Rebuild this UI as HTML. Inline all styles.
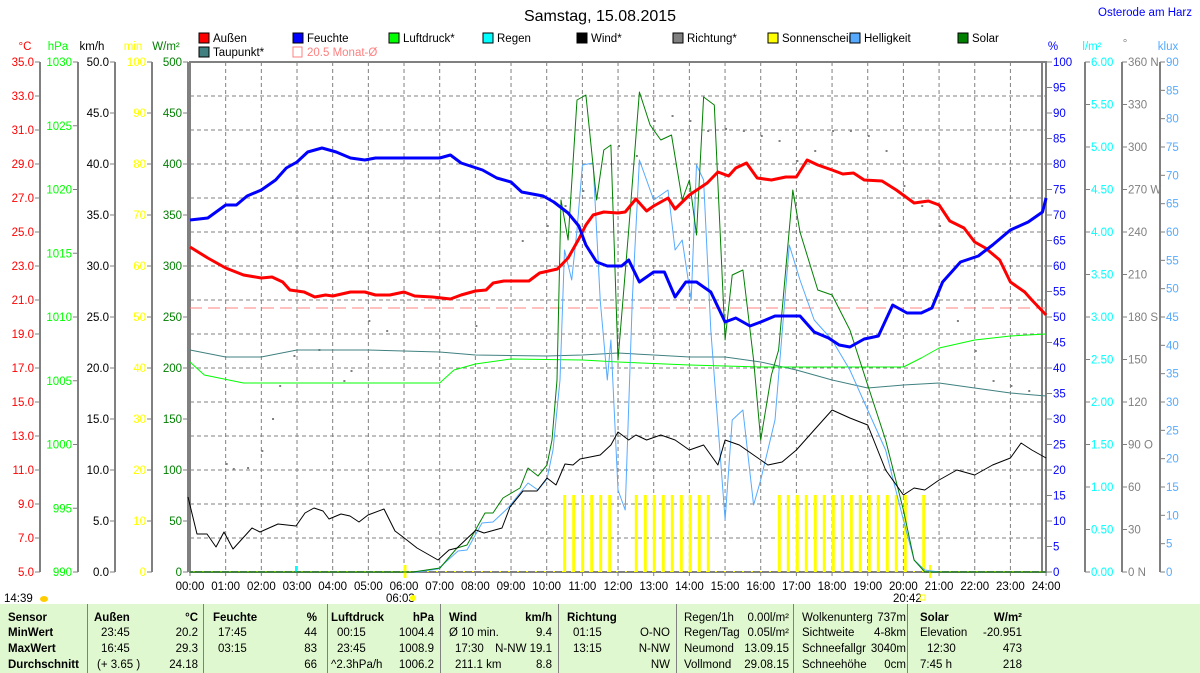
<!DOCTYPE html>
<html><head><meta charset="utf-8"><style>
body{margin:0;background:#fff;width:1200px;height:673px;overflow:hidden;font-family:"Liberation Sans",sans-serif}
svg{position:absolute;left:0;top:0}
.tb{position:absolute;left:0;top:604px;width:1200px;height:69px;background:#e0f8d0;font-size:11.5px}
.tb div{position:absolute;white-space:nowrap}
.tb .vl{width:1px;height:69px;top:0;background:#808080}
</style></head><body>
<svg id="s" width="1200" height="604" font-family="Liberation Sans, sans-serif" font-size="11.5"></svg>
<div class="tb" id="tb"></div>
<script>
const S=document.getElementById('s');let h='';
const X=t=>190+35.67*t, Q=x=>(x-190)/35.67, x0=190,x1=1046,y0=62,y1=572;
function T(x,y,s,c,a,extra){h+=`<text x="${x}" y="${y}" fill="${c||'#000'}" text-anchor="${a||'start'}" ${extra||''}>${s}</text>`;}
function L(a,b,c2,d,c,w,da){h+=`<line x1="${a}" y1="${b}" x2="${c2}" y2="${d}" stroke="${c}" stroke-width="${w||1}" ${da?`stroke-dasharray="${da}"`:''}/>`;}
function P(pts,c,w){h+=`<polyline fill="none" stroke="${c}" stroke-width="${w}" stroke-linejoin="round" points="${pts.map(p=>X(p[0]).toFixed(1)+','+p[1]).join(' ')}"/>`;}
const px=a=>a.map(p=>[Q(p[0]),p[1]]);
T(600,21,'Samstag, 15.08.2015','#000','middle','font-size="16"');
T(1192,16,'Osterode am Harz','#0000ff','end');
const lg=[[199,'Außen','#ff0000'],[293,'Feuchte','#0000ff'],[389,'Luftdruck*','#00ff00'],[483,'Regen','#00ffff'],[577,'Wind*','#000'],[673,'Richtung*','#808080'],[768,'Sonnenschein','#ffff00'],[850,'Helligkeit','#55aaff'],[958,'Solar','#008000']];
lg.forEach(l=>{h+=`<rect x="${l[0]}" y="33" width="10" height="10" fill="${l[2]}" stroke="#000"/>`;T(l[0]+14,42,l[1]);});
h+=`<rect x="199" y="47" width="10" height="10" fill="#408080" stroke="#000"/>`;T(213,56,'Taupunkt*');
h+=`<rect x="293" y="47" width="9" height="10" fill="none" stroke="#ff8080"/>`;T(307,56,'20.5 Monat-Ø','#ff8080');
for(let i=1;i<24;i++)L(X(i),y0,X(i),y1,'#808080',1,'4,3');
for(let i=1;i<15;i++)L(x0,y0+34*i,x1,y0+34*i,'#808080',1,'4,3');
h+=`<rect x="${x0}" y="${y0}" width="${x1-x0}" height="${y1-y0}" fill="none" stroke="#808080" stroke-width="2"/>`;
L(1042,y0,1042,y1,'#808080',2);
T(25,50,'°C','#ff0000','middle');T(58,50,'hPa','#00ff00','middle');T(92,50,'km/h','#000','middle');T(133,50,'min','#ffff00','middle');T(166,50,'W/m²','#008000','middle');
[[40,'#ff0000',15,i=>(35-2*i).toFixed(1)],[78,'#00ff00',8,i=>1030-5*i],[115,'#000',10,i=>(50-5*i).toFixed(1)],[152,'#ffff00',10,i=>100-10*i],[188,'#008000',10,i=>500-50*i]].forEach(a=>{
 L(a[0],y0,a[0],y1,'#808080',2);
 for(let i=0;i<=a[2];i++){const y=y0+510*i/a[2];L(a[0]-5,y,a[0],y,'#808080');T(a[0]-6,y+4,a[3](i),a[1],'end');}
});
T(1053,50,'%','#0000ff','middle');T(1092,50,'l/m²','#00ffff','middle');T(1125,47,'°','#808080','middle');T(1168,50,'klux','#55aaff','middle');
const dirs={0:'360 N',3:'270 W',6:'180 S',9:'90 O',12:'0 N'};
[[1047,'#0000ff',20,i=>100-5*i],[1085,'#00ffff',12,i=>(6-0.5*i).toFixed(2)],[1122,'#808080',12,i=>dirs[i]||(360-30*i)],[1160,'#55aaff',18,i=>90-5*i]].forEach(a=>{
 if(a[0]!=1047)L(a[0],y0,a[0],y1,'#808080',2);
 for(let i=0;i<=a[2];i++){const y=y0+510*i/a[2];L(a[0],y,a[0]+5,y,'#808080');T(a[0]+6,y+4,a[3](i),a[1]);}
});
for(let i=0;i<=24;i++){L(X(i),y1,X(i),y1+4,'#808080');T(X(i),590,(i<10?'0':'')+i+':00','#000','middle');}
T(4,602,'14:39');h+=`<ellipse cx="44" cy="599" rx="4" ry="3" fill="#ffcc00"/>`;
T(386,602,'06:03');h+=`<circle cx="413" cy="598" r="3" fill="#ffff00"/>`;L(405,565,405,578,'#ffff00',3);
T(893,602,'20:42');h+=`<rect x="920" y="595" width="5" height="5" fill="none" stroke="#ffff00"/>`;L(930,565,930,578,'#ffff00',2);
L(296,566,296,572,'#00ffff',2);
const sb=[];for(let i=0;i<6;i++)sb.push(564.7+9*i);for(let i=0;i<9;i++)sb.push(636.3+9*i);for(let i=0;i<15;i++)sb.push(779.3+9*i);sb.push(923.7);
sb.forEach(x=>L(x,495,x,572,'#ffff00',3));
for(let x=193;x<1040;x+=9){h+=`<rect x="${x}" y="571" width="2" height="1" fill="#ffff00"/>`;}
const dots=[[1,463],[1.2,468],[1.6,467],[2,450],[2.3,418],[2.5,385],[2.9,355],[3.6,349],[4.3,380],[4.5,370],[5,320],[5.5,330],[8,325],[9.3,240],[10,225],[10.5,205],[11,190],[12,145],[12.5,155],[13,120],[13.5,115],[14,120],[14.5,130],[15,128],[15.5,130],[16,135],[16.5,140],[17,160],[17.5,150],[18,130],[18.5,130],[19,135],[19.5,150],[20,185],[20.5,205],[21,225],[21.5,320],[22,350],[22.5,380],[23,385],[23.5,390]];
dots.forEach(p=>{h+=`<rect x="${X(p[0])}" y="${p[1]}" width="2" height="2" fill="#808080"/>`;});
P([[0,350],[1,357],[2,357],[3,350],[5,350],[7,352],[8,355],[10,356],[11,355],[12,353],[13,355],[14,357],[15,357],[16,362],[17,370],[18,380],[19,388],[20,385],[21,383],[22,388],[23,393],[24,396]],'#408080',1);
P([[0,362],[0.4,375],[1.5,383],[7,383],[7.4,370],[8,364],[9,359],[11,360],[12,362],[14,365],[16,367],[20,367],[20.5,358],[21,348],[22,340],[23,336],[24,334]],'#00ff00',1);
L(x0,308,x1,308,'#ff8080',1,'12,6');
const hb=[[0,572]].concat(px([[417,572],[438,569],[458,551],[467,550],[482,523],[493,522],[508,508],[528,483],[538,490],[547,479],[553,450],[560,380]]),[[10.5,250],[10.7,280],[10.85,230],[11,165],[11.3,163],[11.5,300],[11.7,380],[11.8,340],[12,490],[12.2,510],[12.4,300],[12.6,160],[13,200],[13.4,190],[13.6,250],[13.8,240],[14.05,300],[14.2,165],[14.4,180],[14.6,330],[15,520],[15.2,420],[15.5,410],[15.8,505],[16,480],[16.4,420],[16.8,245],[17.1,280],[17.5,320],[18,340],[18.5,370],[19,410],[19.5,450],[20,520],[20.3,560],[20.6,570],[21,572],[24,572]]);
P(hb,'#55aaff',1);
const so=[[0,572]].concat(px([[413,572],[440,568],[457,548],[467,545],[485,513],[493,513],[503,498],[520,488],[528,468],[538,476],[547,465],[552,440],[557,380]]),[[10.4,200],[10.6,240],[10.85,100],[11.1,95],[11.4,200],[11.6,150],[11.8,145],[12,360],[12.3,230],[12.6,92],[12.9,125],[13.2,140],[13.5,135],[13.8,200],[14,180],[14.2,235],[14.4,97],[14.7,105],[15,340],[15.2,275],[15.5,270],[15.8,360],[16,440],[16.3,375],[16.5,350],[16.9,190],[17.1,232],[17.6,290],[18,295],[18.5,330],[19,385],[19.5,440],[20,510],[20.3,560],[20.6,572],[24,572]]);
P(so,'#008000',1);
const wi=px([[188,497],[197,534],[207,534],[216,547],[224,532],[233,549],[252,528],[260,532],[278,524],[296,526],[305,513],[314,508],[323,511],[329,519],[341,514],[350,516],[359,522],[368,515],[384,509],[395,531],[403,537],[417,548],[438,560],[449,550],[457,548],[476,530],[484,533],[502,528],[510,507],[523,491],[537,491],[547,478],[556,485],[565,464],[573,465],[580,459]]).concat([[11.5,455],[11.8,445],[12,432],[12.3,440],[12.5,435],[12.8,440],[13.2,435],[13.6,440],[14,450],[14.4,445],[14.8,465],[15,440],[15.4,445],[15.8,455],[16.2,465],[16.6,462],[17,450],[17.5,430],[18,410],[18.5,418],[19,425],[19.5,470],[20,495],[20.3,488],[20.6,490],[21,480],[21.5,470],[22,475],[22.5,465],[23,458],[23.3,443],[23.6,450],[24,458]]);
P(wi,'#000',1);
P([[0,247],[0.5,258],[1,268],[1.5,275],[2,278],[2.3,277],[2.6,282],[2.8,290],[3.2,292],[3.5,297],[3.8,295],[4,296],[4.5,292],[4.9,292],[5.2,295],[5.6,295],[6,292],[6.3,296],[6.8,297],[7.3,299],[7.6,295],[8,291],[8.3,290],[8.5,283],[8.8,281],[9.5,281],[9.8,273],[10.3,269],[10.6,258],[10.9,239],[11.1,225],[11.3,215],[11.6,212],[12,213],[12.2,212],[12.5,199],[12.8,211],[13,206],[13.4,198],[13.6,209],[14,195],[14.5,183],[14.8,172],[15.1,176],[15.3,168],[15.6,163],[15.9,178],[16.3,180],[16.7,177],[17,177],[17.3,160],[17.6,165],[18,170],[18.3,174],[18.6,173],[18.9,180],[19.4,181],[19.8,190],[20.3,203],[20.7,201],[21,205],[21.3,221],[21.7,228],[22,242],[22.3,248],[22.7,260],[23,282],[23.4,292],[23.6,300],[24,315]],'#ff0000',3);
P([[0,220],[0.5,218],[1,205],[1.3,205],[1.6,196],[2,190],[2.4,180],[2.7,168],[3,162],[3.3,152],[3.7,148],[4.1,152],[4.5,158],[4.9,160],[5.2,158],[7,158],[7.3,155],[7.6,163],[8.2,170],[8.6,178],[9,182],[9.3,192],[9.9,196],[10.2,202],[10.6,213],[10.9,226],[11.1,245],[11.4,262],[11.7,266],[12.1,266],[12.3,260],[12.6,282],[13,272],[13.3,272],[13.6,297],[13.9,282],[14.2,282],[14.6,292],[15,322],[15.3,318],[15.7,326],[16,322],[16.4,316],[17.1,316],[17.5,332],[17.9,338],[18.2,345],[18.5,347],[18.9,339],[19.3,336],[19.7,305],[20.1,313],[20.5,313],[20.8,308],[21.1,282],[21.6,262],[22.1,256],[22.5,245],[23,230],[23.5,222],[23.9,212],[24,198]],'#0000ff',3);
S.innerHTML=h;
const tb=document.getElementById('tb');let t='';
const c=(x,y,s,b,r)=>{t+=`<div style="${r?'right:'+(1200-x)+'px':'left:'+x+'px'};top:${y}px;${b?'font-weight:bold;':''}">${s}</div>`;};
[87,203,327,440,558,676,793,907].forEach(x=>{t+=`<div class="vl" style="left:${x}px"></div>`;});
const R=[8,23,39,55];
c(8,R[0],'Sensor',1);c(8,R[1],'MinWert',1);c(8,R[2],'MaxWert',1);c(8,R[3],'Durchschnitt',1);
c(94,R[0],'Außen',1);c(198,R[0],'°C',1,1);c(101,R[1],'23:45');c(198,R[1],'20.2',0,1);c(101,R[2],'16:45');c(198,R[2],'29.3',0,1);c(97,R[3],'(+ 3.65 )');c(198,R[3],'24.18',0,1);
c(213,R[0],'Feuchte',1);c(317,R[0],'%',1,1);c(218,R[1],'17:45');c(317,R[1],'44',0,1);c(218,R[2],'03:15');c(317,R[2],'83',0,1);c(317,R[3],'66',0,1);
c(331,R[0],'Luftdruck',1);c(434,R[0],'hPa',1,1);c(337,R[1],'00:15');c(434,R[1],'1004.4',0,1);c(337,R[2],'23:45');c(434,R[2],'1008.9',0,1);c(331,R[3],'^2.3hPa/h');c(434,R[3],'1006.2',0,1);
c(449,R[0],'Wind',1);c(552,R[0],'km/h',1,1);c(449,R[1],'Ø 10 min.');c(552,R[1],'9.4',0,1);c(455,R[2],'17:30');c(552,R[2],'N-NW 19.1',0,1);c(455,R[3],'211.1 km');c(552,R[3],'8.8',0,1);
c(567,R[0],'Richtung',1);c(573,R[1],'01:15');c(670,R[1],'O-NO',0,1);c(573,R[2],'13:15');c(670,R[2],'N-NW',0,1);c(670,R[3],'NW',0,1);
c(684,R[0],'Regen/1h');c(789,R[0],'0.00l/m²',0,1);c(684,R[1],'Regen/Tag');c(789,R[1],'0.05l/m²',0,1);c(684,R[2],'Neumond');c(789,R[2],'13.09.15',0,1);c(684,R[3],'Vollmond');c(789,R[3],'29.08.15',0,1);
c(802,R[0],'Wolkenunterg');c(906,R[0],'737m',0,1);c(802,R[1],'Sichtweite');c(906,R[1],'4-8km',0,1);c(802,R[2],'Schneefallgr');c(906,R[2],'3040m',0,1);c(802,R[3],'Schneehöhe');c(906,R[3],'0cm',0,1);
c(920,R[0],'Solar',1);c(1022,R[0],'W/m²',1,1);c(920,R[1],'Elevation');c(1022,R[1],'-20.951',0,1);c(927,R[2],'12:30');c(1022,R[2],'473',0,1);c(920,R[3],'7:45 h');c(1022,R[3],'218',0,1);
tb.innerHTML=t;
</script>
</body></html>
